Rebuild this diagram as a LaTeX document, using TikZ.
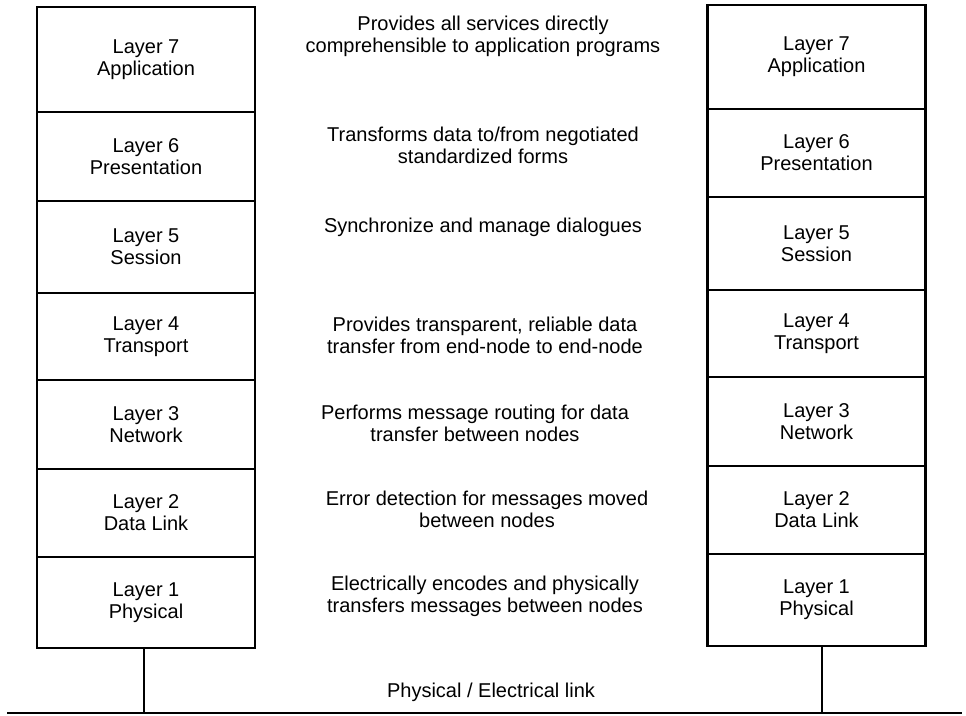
\documentclass[tikz,border=0pt]{standalone}
\usepackage{fontspec}
\setmainfont{Liberation Sans}

\begin{document}
\begin{tikzpicture}[x=0.75pt, y=-0.75pt]
	\tikzstyle{every node}=[align=center, inner sep=1pt, font=\fontsize{15pt}{16.5pt}\selectfont]
	\tikzstyle{layer}=[draw, line width=2pt, minimum width=163.5pt]
	\tikzstyle{wire}=[line width=2pt]
	\useasboundingbox (0,0) rectangle (966,715);

	% left stack
	\node[layer, minimum height=78.75pt] (A7) at (146, 59.5) {Layer 7\\Application};
	\node[layer, minimum height=66.75pt] (A6) at (146, 156.5) {Layer 6\\Presentation};
	\node[layer, minimum height=69pt] (A5) at (146, 247) {Layer 5\\Session};
	\node[layer, minimum height=65.25pt] (A4) at (146, 336.5) {Layer 4\\Transport};
	\node[layer, minimum height=66.75pt] (A3) at (146, 424.5) {Layer 3\\Network};
	\node[layer, minimum height=66pt] (A2) at (146, 513) {Layer 2\\Data Link};
	\node[layer, minimum height=68.25pt] (A1) at (146, 602.5) {Layer 1\\Physical};

	% right stack
	\node[layer, minimum height=78pt] (B7) at (816.5, 57) {Layer 7\\Application};
	\node[layer, minimum height=66pt] (B6) at (816.5, 153) {Layer 6\\Presentation};
	\node[layer, minimum height=69.75pt] (B5) at (816.5, 243.5) {Layer 5\\Session};
	\node[layer, minimum height=65.25pt] (B4) at (816.5, 333.5) {Layer 4\\Transport};
	\node[layer, minimum height=66.75pt] (B3) at (816.5, 421.5) {Layer 3\\Network};
	\node[layer, minimum height=66pt] (B2) at (816.5, 510) {Layer 2\\Data Link};
	\node[layer, minimum height=69pt] (B1) at (816.5, 600) {Layer 1\\Physical};

	% what each layer does
	\node (D7) at (483, 36) {Provides all services directly\\comprehensible to application programs};
	\node (D6) at (483, 145) {Transforms data to/from negotiated\\standardized forms};
	\node (D5) at (483, 227) {Synchronize and manage dialogues};
	\node (D4) at (485, 335) {Provides transparent, reliable data\\transfer from end-node to end-node};
	\node (D3) at (475, 423) {Performs message routing for data\\transfer between nodes};
	\node (D2) at (487, 509) {Error detection for messages moved\\between nodes};
	\node (D1) at (485, 596) {Electrically encodes and physically\\transfers messages between nodes};

	% the link
	\node (link) at (491, 692) {Physical / Electrical link};
	\coordinate (W) at (7, 713);
	\coordinate (E) at (962, 713);
	\draw[wire] (W) -- (E);
	\draw[wire] ([xshift=-1.5pt]A1.south) -- ([xshift=-1.5pt]A1.south |- W);
	\draw[wire] ([xshift=4pt]B1.south) -- ([xshift=4pt]B1.south |- W);
\end{tikzpicture}
\end{document}
